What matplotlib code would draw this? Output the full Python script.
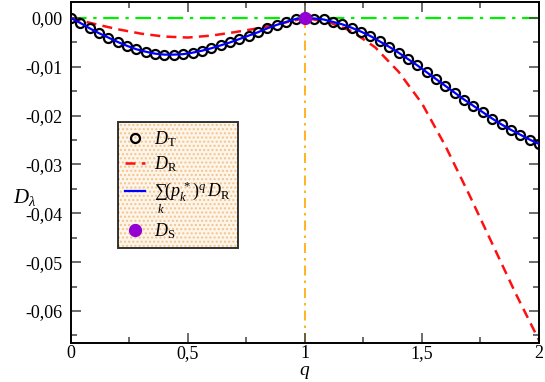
import numpy as np
import matplotlib
matplotlib.use('Agg')
import matplotlib.pyplot as plt
from matplotlib.ticker import MultipleLocator, FuncFormatter
from matplotlib.patches import Rectangle

plt.rcParams['font.family'] = ['Liberation Serif', 'DejaVu Serif']
plt.rcParams['mathtext.fontset'] = 'custom'
plt.rcParams['mathtext.rm'] = 'Liberation Serif'
plt.rcParams['mathtext.it'] = 'Liberation Serif:italic'
plt.rcParams['mathtext.fallback'] = 'stix'

# D_T (кружки) и сумма (синяя линия) на сетке q шаг 0.04
q_t = np.arange(51) * 0.04
d_t = [0.0, -0.0010, -0.0021, -0.0031, -0.0040, -0.0049, -0.0057, -0.0064,
       -0.0069, -0.0073, -0.0075, -0.0075, -0.0074, -0.0071, -0.0067, -0.0062,
       -0.0056, -0.0050, -0.0043, -0.0036, -0.0029, -0.0021, -0.0014, -0.0008,
       -0.0002, 0.0,
       -0.0001, -0.0003, -0.0008, -0.0013, -0.0020, -0.0028, -0.0037, -0.0048,
       -0.0059, -0.0071, -0.0084, -0.0097, -0.0111, -0.0125, -0.0139, -0.0153,
       -0.0167, -0.0180, -0.0193, -0.0206, -0.0218, -0.0229, -0.0239, -0.0249,
       -0.0258]
d_sum = d_t

# D_R (красный пунктир), шаг 0.1
q_r = np.arange(21) * 0.1
d_r = [0.0, -0.0012, -0.0023, -0.0032, -0.0038, -0.0040, -0.0036, -0.0029,
       -0.0021, -0.0011, 0.0, -0.0008, -0.0027, -0.0060, -0.0110, -0.0175,
       -0.0262, -0.0360, -0.0462, -0.0564, -0.0660]

# D_S
q_s = [1.0]
d_s = [0.0]

fig = plt.figure(figsize=(5.45, 3.82), dpi=100)
ax = fig.add_axes([0.130, 0.103, 0.859, 0.892])

ax.axhline(0, color='#00ee00', lw=1.6, ls=(0, (7, 3, 1.5, 3)), zorder=1)
ax.axvline(1, color='orange', lw=1.2, ls=(0, (6, 3, 1.5, 3)), zorder=1)

ax.plot(q_t, d_t, 'o', mfc='none', mec='black', mew=1.6, ms=6.5,
        label=r'$D_\mathrm{T}$', zorder=3)
ax.plot(q_r, d_r, color='#ff1010', lw=1.8, ls=(0, (4, 2.5)),
        label=r'$D_\mathrm{R}$', zorder=2)
ax.plot(q_t, d_sum, color='#0000ff', lw=1.6,
        label=r'$\sum_k(p_k^{\,*})^q\,D_\mathrm{R}$', zorder=4)
ax.plot(q_s, d_s, 'o', color='#9400d3', ms=8.5,
        label=r'$D_\mathrm{S}$', zorder=5, clip_on=False)

ax.set_xlim(0, 2)
ax.set_ylim(-0.0665, 0.0033)
ax.xaxis.set_major_locator(MultipleLocator(0.5))
ax.xaxis.set_minor_locator(MultipleLocator(0.25))
ax.yaxis.set_major_locator(MultipleLocator(0.01))
ax.yaxis.set_minor_locator(MultipleLocator(0.005))


def fmt_y(v, pos):
    if abs(v) < 1e-9:
        return '0,00'
    return ('%.2f' % v).replace('.', ',')


def fmt_x(v, pos):
    return ('%g' % v).replace('.', ',')


ax.yaxis.set_major_formatter(FuncFormatter(fmt_y))
ax.xaxis.set_major_formatter(FuncFormatter(fmt_x))
ax.tick_params(which='both', direction='in', top=True, right=True,
               labelsize=13, width=1.1, color='#444444')
ax.tick_params(which='major', length=7)
ax.tick_params(axis='y', which='major', pad=6)
ax.tick_params(axis='x', which='major', pad=2)
ax.tick_params(which='minor', length=4)
for s in ax.spines.values():
    s.set_linewidth(1.4)

ax.set_xlabel(r'$q$', fontsize=14)
ax.xaxis.set_label_coords(0.5, -0.063)
ax.set_ylabel(r'$D_\lambda$', fontsize=15, rotation=0)
ax.yaxis.set_label_coords(-0.098, 0.395)

leg = ax.legend(loc='upper left', bbox_to_anchor=(0.100, 0.648),
                borderaxespad=0, fontsize=13, frameon=True, fancybox=False,
                handlelength=1.1, handletextpad=0.5, labelspacing=0.3,
                borderpad=0.4)
fr = leg.get_frame()
fr.set_edgecolor('black')
fr.set_linewidth(1.4)
fr.set_facecolor('none')
leg.set_zorder(10)

# точечная заливка легенды
fig.canvas.draw()
bb = leg.get_window_extent().transformed(ax.transAxes.inverted())
plt.rcParams['hatch.linewidth'] = 1.0
bg = Rectangle((bb.x0, bb.y0), bb.width, bb.height, transform=ax.transAxes,
               facecolor='#fdf5ea', edgecolor='#f2c48c', hatch='....',
               lw=0, zorder=9)
ax.add_patch(bg)

fig.savefig('out.png', dpi=100)
